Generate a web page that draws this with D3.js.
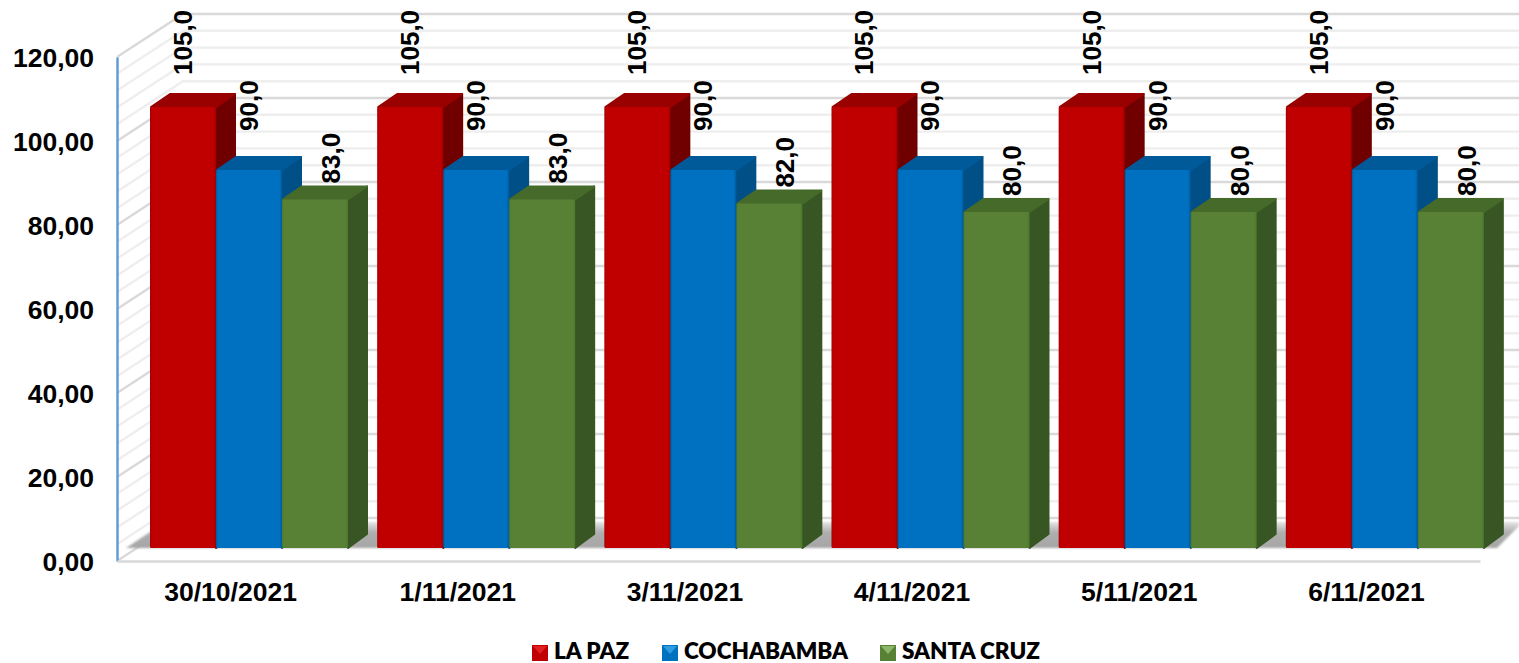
<!DOCTYPE html>
<html><head><meta charset="utf-8">
<script src="https://cdn.jsdelivr.net/npm/d3@7"></script>
<style>html,body{margin:0;background:#fff;overflow:hidden}svg{display:block}
text{font-family:"Liberation Sans",Arial,sans-serif;font-weight:700;fill:#000}</style>
</head><body><svg id="c" width="1519" height="663"></svg>
<script>
const categories=["30/10/2021","1/11/2021","3/11/2021","4/11/2021","5/11/2021","6/11/2021"];
const seriesNames=["LA PAZ","COCHABAMBA","SANTA CRUZ"];
const laPaz=[105,105,105,105,105,105];
const cochabamba=[90,90,90,90,90,90];
const santaCruz=[83,83,82,80,80,80];
const seriesValues=[laPaz,cochabamba,santaCruz];
const yTicks=[0,20,40,60,80,100,120];
const yGrid=[0,4,8,12,16,20,24,28,32,36,40,44,48,52,56,60,64,68,72,76,80,84,88,92,96,100,104,108,112,116,120];
const palette=[
 {front:"#C00000",edge:"#a00000",top:"#990000",side:"#700000",hi:"#e02020"},
 {front:"#0070C0",edge:"#005a9c",top:"#005A9A",side:"#004F86",hi:"#2f9be0"},
 {front:"#588135",edge:"#4a7a2b",top:"#466A2A",side:"#375623",hi:"#8fb56a"}];

const svg=d3.select("#c"), defs=svg.append("defs");
const x=d3.scaleBand().domain(categories).range([117,1480]);
const y=d3.scaleLinear().domain([0,120]).range([561,57]);
const inner=d3.scaleBand().domain(d3.range(3)).range([33,231]);
const wall={dx:66,dy:-43}, front={dy:-13}, depth={dx:20,dy:-14};
const fmt=d=>d.toFixed(2).replace(".",",");
const fmt1=d=>d.toFixed(1).replace(".",",");
const line=d3.line();

palette.forEach((p,i)=>{
 const g=defs.append("linearGradient").attr("id","f"+i);
 [[0,p.edge],[.03,p.front],[.96,p.front],[1,p.edge]].forEach(s=>g.append("stop").attr("offset",s[0]).attr("stop-color",s[1]));
});
defs.append("filter").attr("id","soft").append("feGaussianBlur").attr("stdDeviation",0.8);
const sg=defs.append("linearGradient").attr("id","shadow").attr("x1",0).attr("x2",0).attr("y1",0).attr("y2",1);
[[0,"#e4e4e4"],[.4,"#aeaeae"],[1,"#a6a6a6"]].forEach(s=>sg.append("stop").attr("offset",s[0]).attr("stop-color",s[1]));

// Walls
const grid=svg.append("g").attr("fill","none");
yGrid.forEach(v=>{
 const major=v%20===0, c=major?"#d9d9d9":"#eeeeee";
 const yy=y(v);
 grid.append("path").attr("d",line([[x.range()[0],yy],[x.range()[0]+wall.dx,yy+wall.dy],[1519,yy+wall.dy]]))
  .attr("stroke",c).attr("stroke-width",2.4);
});

// Floor shadow
const y0=y(0)+front.dy;
svg.append("path").attr("d",line([[126,y0],[165,y0-26],[1519,y0-26],[1519,y0-22],[1497,y0]])+"Z")
 .attr("fill","url(#shadow)").attr("filter","url(#soft)");

// Axes
const ax=svg.append("g").attr("transform","translate(117,0)")
 .call(d3.axisLeft(y).tickValues(yTicks).tickFormat(fmt).tickSize(0).tickPadding(23));
ax.select(".domain").attr("stroke","#5B9BD5").attr("stroke-width",2.4);
ax.selectAll("text").attr("font-size",26.5).attr("font-family",null).attr("dy","0.34em");
const bx=svg.append("g").attr("transform","translate(0,561)")
 .call(d3.axisBottom(x).tickSize(0).tickPadding(21).tickSizeOuter(0));
bx.select(".domain").attr("stroke","#d9d9d9").attr("stroke-width",2.4);
bx.selectAll("text").attr("font-size",26.5).attr("font-family",null);

// Bars
const labelOff=[{dx:-0.5,dy:32},{dx:-0.5,dy:39},{dx:15.5,dy:16}];
const bars=svg.append("g");
categories.forEach((cat,ci)=>{
 seriesValues.forEach((vals,si)=>{
  const p=palette[si], v=vals[ci];
  const L=x(cat)+inner(si), R=L+inner.bandwidth(), T=y(v)+front.dy, B=y0;
  const g=bars.append("g").attr("stroke-linejoin","round");
  g.append("path").attr("d",line([[R,T],[R+depth.dx-1,T+depth.dy+1],[R+depth.dx-1,B+depth.dy],[R,B]])+"Z")
   .attr("fill",p.side).attr("stroke",p.side).attr("stroke-width",2);
  g.append("path").attr("d",line([[L+1,T],[L+depth.dx,T+depth.dy+1],[R+depth.dx-1,T+depth.dy+1],[R,T]])+"Z")
   .attr("fill",p.top).attr("stroke",p.top).attr("stroke-width",2);
  g.append("rect").attr("x",L).attr("y",T).attr("width",R-L).attr("height",B-T).attr("rx",1.5)
   .attr("fill",`url(#f${si})`);
 });
});
// Data labels
categories.forEach(cat=>{
 seriesValues.forEach((vals,si)=>{
  const v=vals[categories.indexOf(cat)], o=labelOff[si];
  const cx=x(cat)+inner(si)+inner.bandwidth()/2+o.dx, by=y(v)+front.dy-o.dy;
  svg.append("text").attr("transform",`translate(${cx},${by}) rotate(-90)`)
   .attr("dy","0.36em").attr("font-size",26).text(fmt1(v));
 });
});

// Legend
const legendX=[532,662,880];
seriesNames.forEach((n,i)=>{
 const p=palette[i], X=legendX[i], Y=645, S=16;
 const g=svg.append("g");
 g.append("rect").attr("x",X).attr("y",Y).attr("width",S).attr("height",S).attr("fill",p.front);
 g.append("path").attr("d",line([[X+1,Y+1],[X+S-1,Y+1],[X+S/2,Y+S/2+1]])+"Z").attr("fill",p.hi);
 g.append("text").attr("x",X+S+6).attr("y",659).attr("font-size",22.5)
  .style("font-family","Lato,sans-serif").style("font-weight",800).text(n);
});
</script></body></html>
